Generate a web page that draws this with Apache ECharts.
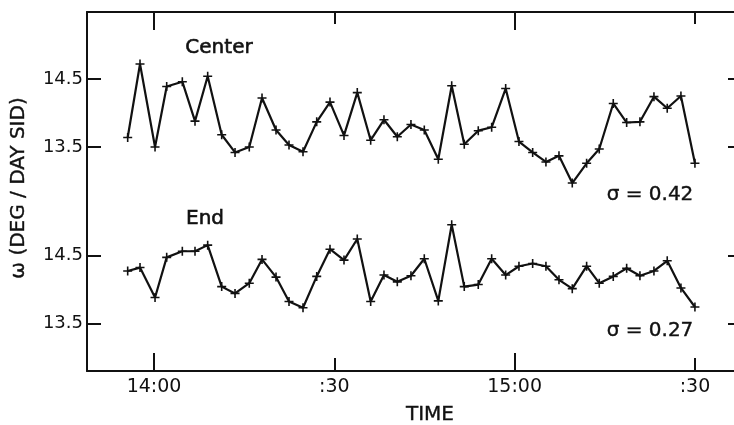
<!DOCTYPE html>
<html>
<head>
<meta charset="utf-8">
<script src="https://cdn.jsdelivr.net/npm/echarts@6/dist/echarts.min.js"></script>
<style>
  html, body { margin: 0; padding: 0; background: #fff; }
  #chart { width: 734px; height: 425px; }
</style>
</head>
<body>
<div id="chart"></div>
<script>
// minutes after 14:00
var times = [-4.38, -2.33, 0.17, 2.11, 4.71, 6.82, 8.93, 11.26, 13.48, 15.85, 17.97, 20.30, 22.46, 24.79, 27.07,
    29.28, 31.61, 33.82, 36.05, 38.26, 40.48, 42.75, 44.97, 47.30, 49.53, 51.62, 53.95, 56.18, 58.51, 60.72,
    63.00, 65.21, 67.38, 69.59, 71.98, 74.08, 76.41, 78.64, 80.85, 83.18, 85.39, 87.67, 90.0];
var centerValues = [13.64, 14.72, 13.50, 14.39, 14.46, 13.88, 14.54, 13.68, 13.42, 13.50, 14.22, 13.75, 13.53, 13.43, 13.87,
    14.16, 13.67, 14.30, 13.60, 13.90, 13.65, 13.83, 13.75, 13.32, 14.40, 13.54, 13.74, 13.79, 14.36, 13.58,
    13.42, 13.28, 13.37, 12.97, 13.26, 13.47, 14.14, 13.86, 13.87, 14.24, 14.07, 14.25, 13.26];
var endValues = [14.27, 14.32, 13.88, 14.47, 14.56, 14.56, 14.65, 14.04, 13.94, 14.09, 14.44, 14.18, 13.82, 13.73, 14.19,
    14.59, 14.43, 14.74, 13.82, 14.21, 14.11, 14.20, 14.45, 13.83, 14.95, 14.04, 14.07, 14.45, 14.21, 14.34,
    14.38, 14.34, 14.14, 14.01, 14.34, 14.09, 14.19, 14.31, 14.20, 14.27, 14.42, 14.02, 13.74];
var hourTicks = [0, 60];
var halfTicks = [30, 90];
var timeLabels = [0, 30, 60, 90];
var yTicks = [13.5, 14.5];

var INK = "#111";
var FONT = "DejaVu Sans";

function pairs(xs, ys) {
    var out = [];
    for (var i = 0; i < xs.length; i++) out.push([xs[i], ys[i]]);
    return out;
}

function timeFmt(v) {
    if (v === 0) return "14:00";
    if (v === 60) return "15:00";
    return ":30";
}

function xAxis(grid, pos, ticks, len, showLine, labels) {
    return {
        type: "value", gridIndex: grid, position: pos, min: -11.15, max: 96.5,
        axisLine: { show: showLine, onZero: false, lineStyle: { color: INK, width: 2 } },
        axisTick: { show: true, inside: true, length: len, customValues: ticks, lineStyle: { color: INK, width: 2 } },
        axisLabel: labels ? {
            show: true, customValues: labels, formatter: timeFmt, color: INK, fontFamily: FONT, fontSize: 19, margin: 7
        } : { show: false },
        splitLine: { show: false }
    };
}

function yAxis(grid, pos, min, max, labels) {
    var left = pos === "left";
    return {
        type: "value", gridIndex: grid, position: pos, min: min, max: max,
        axisLine: { show: left, onZero: false, lineStyle: { color: INK, width: 2 } },
        axisTick: { show: true, inside: true, length: left ? 14 : 6, customValues: yTicks, lineStyle: { color: INK, width: 2 } },
        axisLabel: labels ? {
            show: true, customValues: yTicks, formatter: function (v) { return v.toFixed(1); }, color: INK, fontFamily: FONT, fontSize: 18, margin: 4
        } : { show: false },
        splitLine: { show: false }
    };
}

function lineSeries(xi, yi, data) {
    return {
        type: "line", xAxisIndex: xi, yAxisIndex: yi, data: data,
        symbol: "path://M0,5L10,5M5,0L5,10", symbolSize: 9, showSymbol: true,
        itemStyle: { color: INK, borderColor: INK, borderWidth: 1.6 },
        lineStyle: { color: INK, width: 2.2 },
        animation: false, silent: true
    };
}

function label(x, y, text, size, extra) {
    var style = { text: text, x: x, y: y, fill: INK, font: size + "px '" + FONT + "'", textAlign: "center", textVerticalAlign: "middle", stroke: INK, lineWidth: 0.4 };
    if (extra) for (var k in extra) style[k] = extra[k];
    return { type: "text", style: style, silent: true };
}

var chart = echarts.init(document.getElementById("chart"));
chart.setOption({
    backgroundColor: "#fff",
    animation: false,
    grid: [
        { left: 87, top: 12, width: 647, height: 179 },
        { left: 87, top: 191, width: 647, height: 180 }
    ],
    xAxis: [
        xAxis(0, "top", hourTicks, 18, true, null),
        xAxis(0, "top", halfTicks, 12, false, null),
        xAxis(1, "bottom", hourTicks, 18, true, timeLabels),
        xAxis(1, "bottom", halfTicks, 13, false, null)
    ],
    yAxis: [
        yAxis(0, "left", 12.853, 15.485, true),
        yAxis(0, "right", 12.853, 15.485, false),
        yAxis(1, "left", 12.799, 15.446, true),
        yAxis(1, "right", 12.799, 15.446, false)
    ],
    series: [
        lineSeries(0, 0, pairs(times, centerValues)),
        lineSeries(2, 2, pairs(times, endValues))
    ],
    graphic: [
        label(219, 48, "Center", 20, { lineWidth: 0.6 }),
        label(205, 219, "End", 20, { lineWidth: 0.6 }),
        label(650, 195, "\u03c3 = 0.42", 20),
        label(650, 331, "\u03c3 = 0.27", 20),
        label(430, 415, "TIME", 20),
        {
            type: "text", x: 19, y: 188, rotation: Math.PI / 2, silent: true,
            style: { text: "\u03c9 (DEG / DAY SID)", fill: INK, stroke: INK, lineWidth: 0.4, font: "20px '" + FONT + "'", textAlign: "center", textVerticalAlign: "middle" }
        }
    ]
});
</script>
</body>
</html>
